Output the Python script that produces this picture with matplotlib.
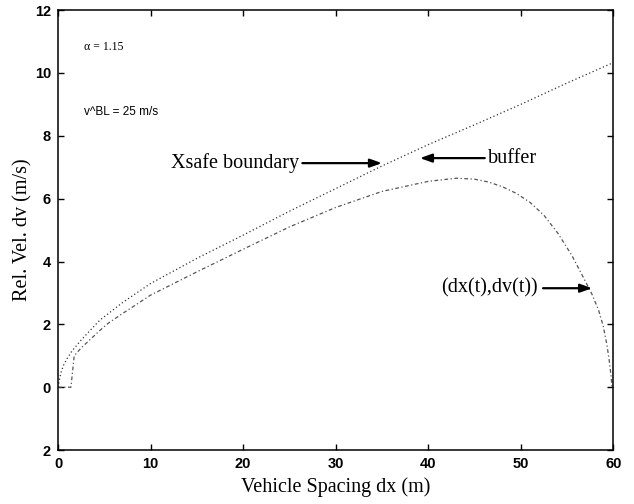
import matplotlib
matplotlib.use("Agg")
import matplotlib.pyplot as plt

# Xsafe boundary
xsafe_x = [0, 0.3, 0.6, 1.0, 1.5, 2.5, 4.5, 7, 10, 15, 20, 25, 30, 35, 40, 45, 50, 55, 60]
xsafe_y = [0, 0.45, 0.7, 0.92, 1.15, 1.5, 2.13, 2.7, 3.3, 4.1, 4.84, 5.6, 6.32, 7.04, 7.72, 8.35, 9.0, 9.68, 10.33]

# trajectory (dx(t), dv(t))
traj_x = [0, 1.4, 1.5, 1.75, 2.5, 4.5, 5.4, 7, 10, 15, 20, 25, 30, 35, 40, 43, 45, 46.5,
          48, 49.5, 51, 52.5, 54, 55.5, 56.9, 57.7, 58.4, 58.9, 59.3, 59.55, 59.75, 59.85]
traj_y = [0, 0, 0.3, 1.0, 1.25, 1.8, 2.03, 2.35, 2.93, 3.67, 4.39, 5.1, 5.72, 6.23, 6.55, 6.65,
          6.62, 6.53, 6.38, 6.17, 5.88, 5.47, 4.9, 4.2, 3.41, 2.95, 2.45, 1.95, 1.35, 0.85, 0.35, 0]

xticks = [0, 10, 20, 30, 40, 50, 60]
yticks = [-2, 0, 2, 4, 6, 8, 10, 12]
ytick_labels = ["2", "0", "2", "4", "6", "8", "10", "12"]

serif = "Liberation Serif"
sans = "Liberation Sans"

fig = plt.figure(figsize=(6.34, 5.04), dpi=100)
ax = fig.add_axes([0.0915, 0.107, 0.876, 0.873])

ax.plot(xsafe_x, xsafe_y, color="#333333", lw=0.9, linestyle=(0, (1, 2)))
ax.plot(traj_x, traj_y, color="#555555", lw=0.9, linestyle=(0, (3, 2, 1, 2)))

ax.set_xlim(0, 60)
ax.set_ylim(-2, 12)
ax.set_xticks(xticks)
ax.set_yticks(yticks)
ax.set_yticklabels(ytick_labels)
ax.tick_params(direction="in", top=True, right=True, length=4, width=1, pad=5)
for lab in ax.get_xticklabels() + ax.get_yticklabels():
    lab.set_fontfamily(sans)
    lab.set_fontsize(10.5)
    lab.set_fontweight("bold")
for s in ax.spines.values():
    s.set_linewidth(1.1)

ax.set_xlabel("Vehicle Spacing dx (m)", fontfamily=serif, fontsize=14.5)
ax.xaxis.set_label_coords(0.5, -0.062)
ax.set_ylabel("Rel. Vel. dv (m/s)", fontfamily=serif, fontsize=14.5)
ax.yaxis.set_label_coords(-0.046, 0.5)

ax.text(2.86, 10.83, "\u03b1 = 1.15", fontfamily=serif, fontsize=8.5, va="center")
ax.text(2.86, 8.76, "v^BL = 25 m/s", fontfamily=sans, fontsize=8.5, va="center")

arrow = dict(arrowstyle="-|>,head_length=0.7,head_width=0.25", lw=1.6, color="k",
             shrinkA=0, shrinkB=0)
ax.text(26.0, 7.13, "Xsafe boundary", fontfamily=serif, fontsize=14.5, ha="right", va="center")
ax.annotate("", xy=(35.0, 7.13), xytext=(26.4, 7.13), arrowprops=arrow)
ax.text(46.4, 7.29, "buffer", fontfamily=serif, fontsize=14.5, ha="left", va="center")
ax.annotate("", xy=(39.1, 7.29), xytext=(46.1, 7.29), arrowprops=arrow)
ax.text(51.8, 3.15, "(dx(t),dv(t))", fontfamily=serif, fontsize=14.5, ha="right", va="center")
ax.annotate("", xy=(57.7, 3.15), xytext=(52.4, 3.15), arrowprops=arrow)

fig.savefig("out.png", dpi=100)
